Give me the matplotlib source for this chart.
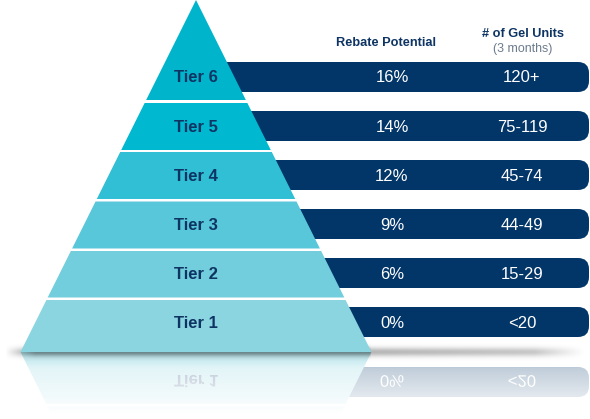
import numpy as np
import matplotlib.pyplot as plt
from matplotlib.patches import Polygon, FancyBboxPatch, PathPatch
from matplotlib.textpath import TextPath
from matplotlib.font_manager import FontProperties
from matplotlib.transforms import Affine2D

# data, bottom tier first
tiers = ['Tier 1', 'Tier 2', 'Tier 3', 'Tier 4', 'Tier 5', 'Tier 6']
rebate = ['0%', '6%', '9%', '12%', '14%', '16%']
units = ['<20', '15-29', '44-49', '45-74', '75-119', '120+']
tier_colors = ['#8bd5e1', '#72cedc', '#58c7d9', '#30bfd4', '#00b8cf', '#00b4cc']
navy = '#023568'
txt_navy = '#0d3463'

plt.rcParams['font.family'] = ['Liberation Sans', 'DejaVu Sans']

fig = plt.figure(figsize=(5.9, 4.19), dpi=100)
ax = fig.add_axes([0, 0, 1, 1])
ax.set_xlim(0, 590)
ax.set_ylim(419, 0)
ax.axis('off')

# pyramid geometry (pixels)
apex_x, base_y, half_base = 196, 352, 175.5
band_top = [300, 251, 201.5, 152, 103, 0]
band_bot = [352, 297.5, 248.5, 199, 150, 100]
bar_h = 30
bar_right = 589


def edge(y):
    return (y / base_y) * half_base


def band_poly(top, bot):
    return [(apex_x - edge(top), top), (apex_x + edge(top), top),
            (apex_x + edge(bot), bot), (apex_x - edge(bot), bot)]


def mirror(y):
    return 2 * base_y - y


def flipped_text(s, x, y, size, weight, color, z):
    tp = TextPath((0, 0), s, size=size, prop=FontProperties(family='Liberation Sans', weight=weight))
    bb = tp.get_extents()
    tr = Affine2D().translate(-(bb.x0 + bb.x1) / 2, -(bb.y0 + bb.y1) / 2).translate(x, y)
    ax.add_patch(PathPatch(tr.transform_path(tp), fc=color, ec='none', zorder=z))


# reflection (drawn first, faded by white overlay)
for i in range(2):
    cy = 322 - 49 * i
    t, b = mirror(band_bot[i]), mirror(band_top[i])
    ax.add_patch(Polygon([(apex_x - edge(band_bot[i]), t), (apex_x + edge(band_bot[i]), t),
                          (apex_x + edge(band_top[i]), b), (apex_x - edge(band_top[i]), b)],
                         closed=True, fc=tier_colors[i], ec='none', zorder=1))
    ax.add_patch(FancyBboxPatch((220, mirror(cy) - bar_h / 2), bar_right - 220, bar_h,
                                boxstyle='round,pad=0,rounding_size=11', fc=navy, ec='none', zorder=0.5))
    flipped_text(tiers[i], apex_x, mirror(cy + 1), 16.7, 'bold', txt_navy, 2)
    flipped_text(rebate[i], 392, mirror(cy + 1), 16.7, 'normal', 'white', 2)
    flipped_text(units[i], 522, mirror(cy + 1), 16.7, 'normal', 'white', 2)

yy = np.linspace(base_y, 419, 200)
fade = np.interp(yy, [352, 356, 368, 385, 398, 412], [0.2, 0.45, 0.76, 0.84, 0.9, 1.0])
over = np.ones((200, 2, 4))
over[:, :, 3] = fade[:, None]
ax.imshow(over, extent=(0, 590, 419, base_y), origin='upper', aspect='auto', zorder=3,
          interpolation='bilinear')

# shadow under base and bars
xs = np.linspace(0, 590, 600)
ys = np.linspace(338, 368, 120)
X, Y = np.meshgrid(xs, ys)
env = np.clip((X - 5) / 30, 0, 1) * np.clip((585 - X) / 50, 0, 1)
strength = np.where(X < 371, 0.55, 0.38 - 0.12 * (X - 371) / 220)
sh = strength * np.exp(-((Y - 352) / 4.5) ** 2) * env
shadow = np.zeros((120, 600, 4))
shadow[..., :3] = 0.25
shadow[..., 3] = sh
ax.imshow(shadow, extent=(0, 590, 368, 338), origin='upper', aspect='auto', zorder=4,
          interpolation='bilinear')

# navy bars
for i in range(len(tiers)):
    cy = 322 - 49 * i
    ax.add_patch(FancyBboxPatch((205, cy - bar_h / 2), bar_right - 205, bar_h,
                                boxstyle='round,pad=0,rounding_size=11', fc=navy, ec='none', zorder=5))
    ax.text(392, cy + 1, rebate[i], color='white', fontsize=12, ha='center', va='center', zorder=7)
    ax.text(522, cy + 1, units[i], color='white', fontsize=12, ha='center', va='center', zorder=7)

# pyramid bands
for i in range(len(tiers)):
    ax.add_patch(Polygon(band_poly(band_top[i], band_bot[i]), closed=True,
                         fc=tier_colors[i], ec='none', zorder=6))
    cy = 322 - 49 * i
    ax.text(apex_x, cy + 1, tiers[i], color=txt_navy, fontsize=12, fontweight='bold',
            ha='center', va='center', zorder=7)

# column headers
ax.text(386, 43, 'Rebate Potential', color=txt_navy, fontsize=9.2, fontweight='bold',
        ha='center', va='center')
ax.text(523, 34, '# of Gel Units', color=txt_navy, fontsize=9.2, fontweight='bold',
        ha='center', va='center')
ax.text(523, 49, '(3 months)', color='#6b7b8c', fontsize=8.9, ha='center', va='center')

fig.savefig('out.png', dpi=100)
